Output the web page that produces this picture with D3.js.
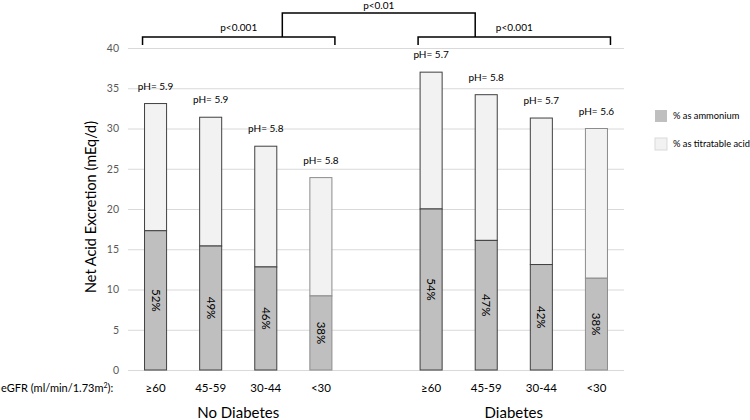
<!DOCTYPE html>
<html>
<head>
<meta charset="utf-8">
<script src="https://cdn.jsdelivr.net/npm/d3@7"></script>
<style>
  body { margin: 0; background: #fff; }
  svg { font-family: Lato, "Open Sans", sans-serif; }
</style>
</head>
<body>
<svg id="chart" width="750" height="420"></svg>
<script>
// data
const groups = ["No Diabetes", "Diabetes"];
const categories = ["≥60", "45-59", "30-44", "<30"];
const ammonium = [17.3, 15.4, 12.8, 9.2, 20.0, 16.1, 13.1, 11.4];
const total = [33.1, 31.4, 27.8, 23.9, 37.0, 34.2, 31.3, 30.0];
const pctLabels = ["52%", "49%", "46%", "38%", "54%", "47%", "42%", "38%"];
const phLabels = ["5.9", "5.9", "5.8", "5.8", "5.7", "5.8", "5.7", "5.6"];
const yTicks = [0, 5, 10, 15, 20, 25, 30, 35, 40];
const groupP = ["p<0.001", "p<0.001"];
const betweenP = "p<0.01";
const legendItems = ["% as ammonium", "% as titratable acid"];

const svg = d3.select('#chart');

const plotL = 128, plotR = 624, plotT = 48, plotB = 370;

// 9 slots: 4 bars, an empty gap, 4 bars
const slots = d3.range(9);
const x = d3.scaleBand().domain(slots).range([plotL, plotR]).paddingInner(0.6).paddingOuter(0.3);
const slotOf = i => i < 4 ? i : i + 1;
const y = d3.scaleLinear().domain([0, 40]).range([plotB, plotT]);
// index -> centre of slot, for bracket positions
const xc = d3.scaleLinear().domain([0, 1]).range([x(0) + x.bandwidth() / 2, x(1) + x.bandwidth() / 2]);

const colAmm = '#bfbfbf', colTit = '#f2f2f2';

// y axis with gridlines
const yAxis = svg.append('g')
    .attr('transform', `translate(${plotL},0)`)
    .call(d3.axisLeft(y).tickValues(yTicks).tickSize(-(plotR - plotL)).tickPadding(9));
yAxis.select('.domain').remove();
yAxis.selectAll('.tick line').attr('stroke', '#d9d9d9');
yAxis.selectAll('.tick text').attr('fill', '#595959').style('font-size', '10.5px').style('font-family', 'Lato, sans-serif');

svg.append('text')
    .attr('transform', `translate(96,${(plotT + plotB) / 2 - 2}) rotate(-90)`)
    .attr('text-anchor', 'middle')
    .style('font-size', '14.5px')
    .text('Net  Acid Excretion (mEq/d)');

// bars
const bars = svg.append('g').selectAll('g')
    .data(total)
    .enter()
    .append('g');

bars.append('rect')
    .attr('x', (d, i) => x(slotOf(i)))
    .attr('width', x.bandwidth())
    .attr('y', (d, i) => y(d))
    .attr('height', (d, i) => y(ammonium[i]) - y(d))
    .attr('fill', colTit)
    .attr('stroke', (d, i) => i % 4 === 3 ? '#8c8c8c' : '#404040')
    .attr('stroke-width', 1);

bars.append('rect')
    .attr('x', (d, i) => x(slotOf(i)))
    .attr('width', x.bandwidth())
    .attr('y', (d, i) => y(ammonium[i]))
    .attr('height', (d, i) => y(0) - y(ammonium[i]))
    .attr('fill', colAmm)
    .attr('stroke', (d, i) => i % 4 === 3 ? '#8c8c8c' : '#404040')
    .attr('stroke-width', 1);

// % labels, rotated
bars.append('text')
    .attr('transform', (d, i) => {
        const cx = x(slotOf(i)) + x.bandwidth() / 2;
        const cy = (y(ammonium[i]) + y(0)) / 2;
        return `translate(${cx},${cy}) rotate(90)`;
    })
    .attr('text-anchor', 'middle')
    .attr('dy', '0.35em')
    .style('font-size', '11.5px')
    .text((d, i) => pctLabels[i]);

// pH labels
bars.append('text')
    .attr('x', (d, i) => x(slotOf(i)) + x.bandwidth() / 2)
    .attr('y', d => y(d) - 14)
    .attr('text-anchor', 'middle')
    .style('font-size', '10px')
    .text((d, i) => `pH= ${phLabels[i]}`);

// category labels
svg.append('g').selectAll('text')
    .data(total)
    .enter()
    .append('text')
    .attr('x', (d, i) => x(slotOf(i)) + x.bandwidth() / 2)
    .attr('y', 392)
    .attr('text-anchor', 'middle')
    .style('font-size', '11.5px')
    .text((d, i) => categories[i % 4]);

svg.append('text')
    .attr('x', 1)
    .attr('y', 392)
    .style('font-size', '11px')
    .html('eGFR (ml/min/1.73m<tspan baseline-shift="super" font-size="7px">2</tspan>):');

// group labels
svg.append('g').selectAll('text')
    .data(groups)
    .enter()
    .append('text')
    .attr('x', (d, g) => (x(g * 5) + x(g * 5 + 3) + x.bandwidth()) / 2)
    .attr('y', 418)
    .attr('text-anchor', 'middle')
    .style('font-size', '15px')
    .text(d => d);

// brackets
const br = svg.append('g').attr('fill', 'none').attr('stroke', '#000').attr('stroke-width', 1.5);
groups.forEach((gname, g) => {
    const x0 = x(g * 5) - 2, x1 = x(g * 5 + 3) + x.bandwidth() + 3;
    br.append('path').attr('d', `M${x0},45V37H${x1}V45`);
    svg.append('text')
        .attr('x', (x0 + x1) / 2)
        .attr('y', 31)
        .attr('text-anchor', 'middle')
        .style('font-size', '10px')
        .text(groupP[g]);
});
br.append('path').attr('d', `M${xc(2.3)},37V13H${xc(5.8)}V37`);
svg.append('text')
    .attr('x', (xc(2.3) + xc(5.8)) / 2)
    .attr('y', 9)
    .attr('text-anchor', 'middle')
    .style('font-size', '10px')
    .text(betweenP);

// legend
const legend = svg.append('g').attr('transform', 'translate(655,110)');
const li = legend.selectAll('g')
    .data(legendItems)
    .enter()
    .append('g')
    .attr('transform', (d, i) => `translate(0,${i * 28})`);
li.append('rect')
    .attr('width', 12).attr('height', 12)
    .attr('fill', (d, i) => i === 0 ? colAmm : colTit)
    .attr('stroke', (d, i) => i === 0 ? 'none' : '#d9d9d9');
li.append('text')
    .attr('x', 18).attr('y', 6).attr('dy', '0.35em')
    .style('font-size', '9.3px')
    .text(d => d);
</script>
</body>
</html>
